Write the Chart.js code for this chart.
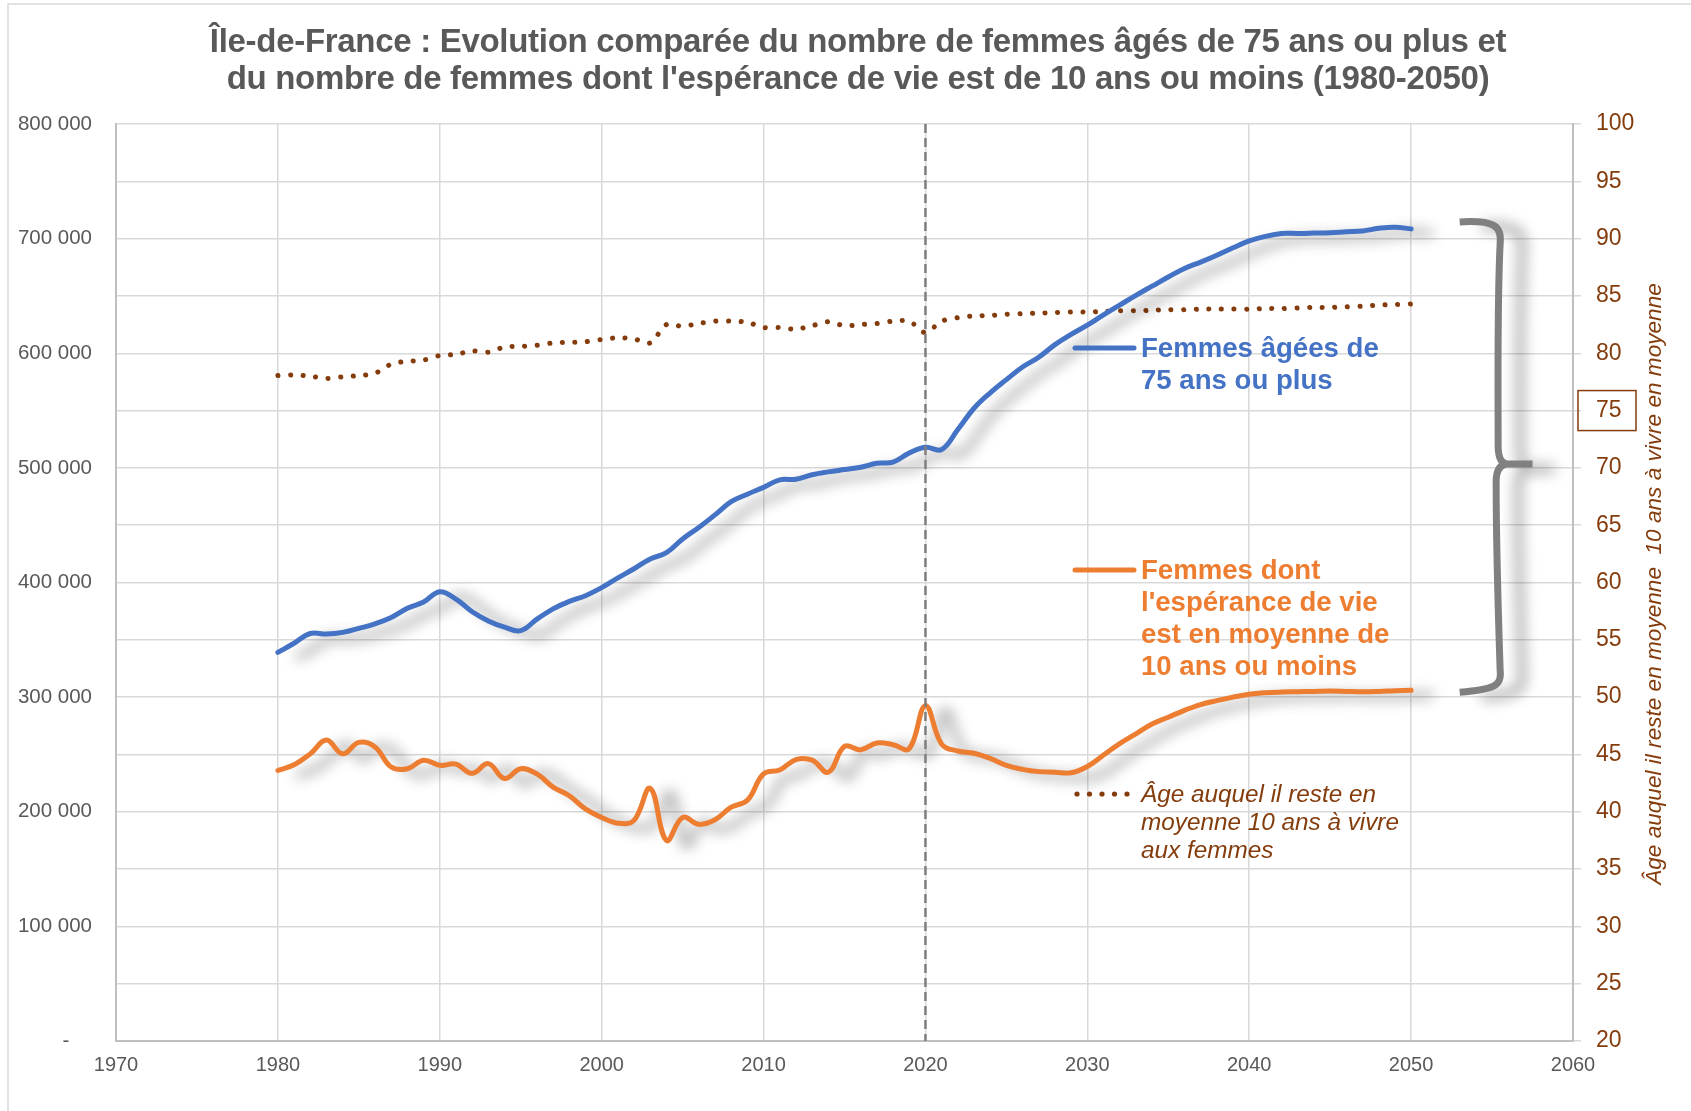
<!DOCTYPE html>
<html>
<head>
<meta charset="utf-8">
<script src="https://cdn.jsdelivr.net/npm/chart.js@4.4.1/dist/chart.umd.min.js"></script>
<style>
  html, body { margin: 0; padding: 0; background: #fff; }
</style>
</head>
<body>
<canvas id="myChart" width="1691" height="1111"></canvas>
<script>
const years = [1980, 1981, 1982, 1983, 1984, 1985, 1986, 1987, 1988, 1989,
  1990, 1991, 1992, 1993, 1994, 1995, 1996, 1997, 1998, 1999,
  2000, 2001, 2002, 2003, 2004, 2005, 2006, 2007, 2008, 2009,
  2010, 2011, 2012, 2013, 2014, 2015, 2016, 2017, 2018, 2019,
  2020, 2021, 2022, 2023, 2024, 2025, 2026, 2027, 2028, 2029,
  2030, 2031, 2032, 2033, 2034, 2035, 2036, 2037, 2038, 2039,
  2040, 2041, 2042, 2043, 2044, 2045, 2046, 2047, 2048, 2049, 2050];

// femmes de 75 ans ou plus
const femmes75 = [339000, 347000, 355500, 355000, 356500, 360000, 364000, 369500, 377500, 383000,
  392000, 385500, 374500, 366500, 361000, 358000, 368000, 377000, 383500, 388500,
  395500, 404000, 412000, 420500, 426000, 438000, 448000, 459000, 470500, 477000,
  483000, 489500, 490000, 494000, 496500, 498500, 500500, 504000, 505000, 513000,
  518000, 516000, 533500, 552000, 565500, 577000, 588000, 596500, 607500, 616500,
  624500, 633500, 642000, 650500, 658500, 666500, 674000, 679500, 685500, 692000,
  698000, 702000, 704500, 704500, 704800, 705200, 706000, 706700, 709000, 710000, 708500];

// femmes dont l'espérance de vie est de 10 ans ou moins
const femmes10 = [236000, 241000, 250500, 262500, 250500, 260500, 256500, 239000, 237500, 245000,
  240500, 241500, 233500, 242000, 229000, 237500, 233000, 221500, 214000, 202500,
  195000, 190000, 192500, 220500, 175000, 195000, 189000, 193000, 204000, 210000,
  233000, 236500, 245500, 245000, 234500, 257000, 254000, 260000, 258500, 255000,
  292500, 259000, 253000, 251000, 246500, 240500, 237000, 235000, 234500, 234000,
  239500, 249500, 259500, 268000, 276500, 282500, 288500, 293500, 297000, 300000,
  302500, 303800, 304400, 304700, 305000, 305300, 305000, 304700, 305000, 305600, 306000];

// âge auquel il reste 10 ans à vivre (axe de droite)
const age10 = [78.05, 78.1, 78.0, 77.8, 77.95, 78.05, 78.25, 79.05, 79.3, 79.4,
  79.8, 79.9, 80.2, 80.1, 80.55, 80.6, 80.7, 80.9, 80.95, 81.0,
  81.2, 81.35, 81.25, 80.9, 82.5, 82.35, 82.6, 82.8, 82.8, 82.7,
  82.25, 82.25, 82.1, 82.4, 82.75, 82.4, 82.5, 82.6, 82.8, 82.8,
  81.8, 82.8, 83.1, 83.25, 83.3, 83.4, 83.45, 83.5, 83.55, 83.6,
  83.6, 83.65, 83.7, 83.7, 83.75, 83.8, 83.8, 83.85, 83.85, 83.85,
  83.85, 83.9, 83.9, 83.95, 84.0, 84.0, 84.05, 84.1, 84.2, 84.25, 84.3];

const anneeRepere = 2020;

const titre = ["Île-de-France : Evolution comparée du nombre de femmes âgés de 75 ans ou plus et",
  "du nombre de femmes dont l'espérance de vie est de 10 ans ou moins (1980-2050)"];
const titreDroite = "Âge auquel il reste en moyenne  10 ans à vivre en moyenne";
const labelBleu = ["Femmes âgées de", "75 ans ou plus"];
const labelOrange = ["Femmes dont", "l'espérance de vie", "est en moyenne de", "10 ans ou moins"];
const labelBrun = ["Âge auquel il reste en", "moyenne 10 ans à vivre", "aux femmes"];

const BLEU = '#4472C4', ORANGE = '#ED7D31', BRUN = '#843C0C', GRIS = '#595959';
const FONT = "'Liberation Sans', Arial, sans-serif";

const toXY = arr => years.map((a, i) => ({ x: a, y: arr[i] }));

const decor = {
  id: 'decor',
  beforeDraw(chart) {
    const c = chart.ctx;
    c.save();
    c.fillStyle = '#fff';
    c.fillRect(0, 0, chart.width, chart.height);
    c.strokeStyle = '#D9D9D9';
    c.lineWidth = 1.5;
    c.beginPath();
    c.moveTo(8, chart.height);
    c.lineTo(8, 4);
    c.lineTo(chart.width, 4);
    c.stroke();
    c.restore();
  },
  beforeDatasetDraw(chart, args) {
    if (args.index > 1) return;
    const c = chart.ctx;
    c.save();
    c.shadowColor = 'rgba(0,0,0,0.45)';
    c.shadowBlur = 14;
    c.shadowOffsetX = 20;
    c.shadowOffsetY = 5;
  },
  afterDatasetDraw(chart, args) {
    if (args.index > 1) return;
    chart.ctx.restore();
  },
  afterDatasetsDraw(chart) {
    const c = chart.ctx;
    const x = chart.scales.x, yl = chart.scales.y, area = chart.chartArea;
    // ligne pointillée verticale 2020
    const x20 = x.getPixelForValue(anneeRepere);
    c.save();
    c.strokeStyle = '#7F7F7F';
    c.lineWidth = 2.5;
    c.setLineDash([9, 5]);
    c.beginPath();
    c.moveTo(x20, area.top);
    c.lineTo(x20, area.bottom);
    c.stroke();
    c.restore();

    // accolade
    const last = years.length - 1;
    const y0 = yl.getPixelForValue(femmes75[last]) - 7;
    const y1 = yl.getPixelForValue(femmes10[last]);
    const ym = (y0 + y1) / 2 + 8;
    const xa = x.getPixelForValue(2053);
    const xb = x.getPixelForValue(2055.5);
    const xt = x.getPixelForValue(2057.5);
    c.save();
    c.shadowColor = 'rgba(0,0,0,0.4)';
    c.shadowBlur = 14;
    c.shadowOffsetX = 22;
    c.shadowOffsetY = 5;
    c.strokeStyle = '#808080';
    c.lineWidth = 7;
    c.lineJoin = 'round';
    c.beginPath();
    c.moveTo(xa, y0);
    c.bezierCurveTo(xb - 6, y0 - 2, xb + 2, y0 + 4, xb, y0 + 22);
    c.bezierCurveTo(xb - 3, y0 + 80, xb - 2, ym - 60, xb - 2, ym - 18);
    c.quadraticCurveTo(xb - 2, ym, xb + 8, ym);
    c.lineTo(xt, ym);
    c.moveTo(xb + 8, ym);
    c.quadraticCurveTo(xb - 4, ym, xb - 4, ym + 18);
    c.bezierCurveTo(xb - 4, ym + 60, xb - 2, y1 - 80, xb, y1 - 20);
    c.bezierCurveTo(xb + 2, y1 - 4, xb - 6, y1 - 1, xa, y1 + 2);
    c.stroke();
    c.restore();
  },
  afterDraw(chart) {
    const c = chart.ctx;
    const yr = chart.scales.y1;
    c.save();
    // titre
    c.fillStyle = GRIS;
    c.textAlign = 'center';
    c.textBaseline = 'middle';
    c.font = 'bold 33px ' + FONT;
    c.letterSpacing = '-0.3px';
    c.fillText(titre[0], 858, 43);
    c.fillText(titre[1], 858, 80);
    c.letterSpacing = '0px';

    // titre axe droit
    c.save();
    c.translate(1655, 584);
    c.rotate(-Math.PI / 2);
    c.fillStyle = BRUN;
    c.font = 'italic 22.6px ' + FONT;
    c.fillText(titreDroite, 0, 0);
    c.restore();

    // cadre autour de 75
    const y75 = yr.getPixelForValue(75);
    c.strokeStyle = BRUN;
    c.lineWidth = 1.5;
    c.strokeRect(1578, y75 - 20, 58, 40);

    // étiquettes
    c.textAlign = 'left';
    c.lineCap = 'round';
    c.lineWidth = 5;
    c.strokeStyle = BLEU;
    c.beginPath(); c.moveTo(1075, 348); c.lineTo(1134, 348); c.stroke();
    c.fillStyle = BLEU;
    c.font = 'bold 27.6px ' + FONT;
    labelBleu.forEach((t, i) => c.fillText(t, 1141, 349 + i * 32));

    c.strokeStyle = ORANGE;
    c.beginPath(); c.moveTo(1075, 570); c.lineTo(1134, 570); c.stroke();
    c.fillStyle = ORANGE;
    labelOrange.forEach((t, i) => c.fillText(t, 1141, 571 + i * 32));

    c.fillStyle = BRUN;
    for (let i = 0; i < 5; i++) {
      c.beginPath();
      c.arc(1077 + i * 12.5, 794, 2.6, 0, Math.PI * 2);
      c.fill();
    }
    c.font = 'italic 24.3px ' + FONT;
    labelBrun.forEach((t, i) => c.fillText(t, 1141, 795 + i * 28));
    c.restore();
  }
};

new Chart(document.getElementById('myChart'), {
  type: 'line',
  data: {
    datasets: [
      {
        label: labelBleu.join(' '),
        data: toXY(femmes75),
        yAxisID: 'y',
        borderColor: BLEU,
        borderWidth: 5,
        tension: 0.4,
        pointRadius: 0,
        borderCapStyle: 'round'
      },
      {
        label: labelOrange.join(' '),
        data: toXY(femmes10),
        yAxisID: 'y',
        borderColor: ORANGE,
        borderWidth: 5,
        tension: 0.4,
        pointRadius: 0,
        borderCapStyle: 'round'
      },
      {
        label: labelBrun.join(' '),
        data: toXY(age10),
        yAxisID: 'y1',
        borderColor: BRUN,
        borderWidth: 5,
        borderDash: [0.1, 12.5],
        borderCapStyle: 'round',
        tension: 0.3,
        pointRadius: 0
      }
    ]
  },
  options: {
    responsive: false,
    animation: false,
    layout: { padding: { top: 124, left: 0, right: 0, bottom: 0 } },
    plugins: {
      legend: { display: false },
      tooltip: { enabled: false }
    },
    scales: {
      x: {
        type: 'linear',
        min: 1970,
        max: 2060,
        ticks: {
          stepSize: 10,
          callback: v => String(v),
          color: GRIS,
          font: { family: FONT, size: 20 },
          padding: 12
        },
        grid: { color: '#D9D9D9', lineWidth: 1.5, drawTicks: false },
        border: { color: '#BFBFBF', width: 2 },
        afterFit: s => { s.height = 70; }
      },
      y: {
        position: 'left',
        min: 0,
        max: 800000,
        ticks: {
          stepSize: 100000,
          callback: v => v === 0 ? '-    ' : (v / 1000) + ' 000',
          color: GRIS,
          font: { family: FONT, size: 20.5 },
          padding: 24
        },
        grid: { display: false, drawTicks: false },
        border: { color: '#BFBFBF', width: 2 },
        afterFit: s => { s.width = 116; }
      },
      y1: {
        position: 'right',
        min: 20,
        max: 100,
        ticks: {
          stepSize: 5,
          color: BRUN,
          font: { family: FONT, size: 23 },
          padding: 15
        },
        grid: { color: '#D9D9D9', lineWidth: 1.5, tickLength: 8 },
        border: { color: '#BFBFBF', width: 2 },
        afterFit: s => { s.width = 118; }
      }
    }
  },
  plugins: [decor]
});
</script>
</body>
</html>
